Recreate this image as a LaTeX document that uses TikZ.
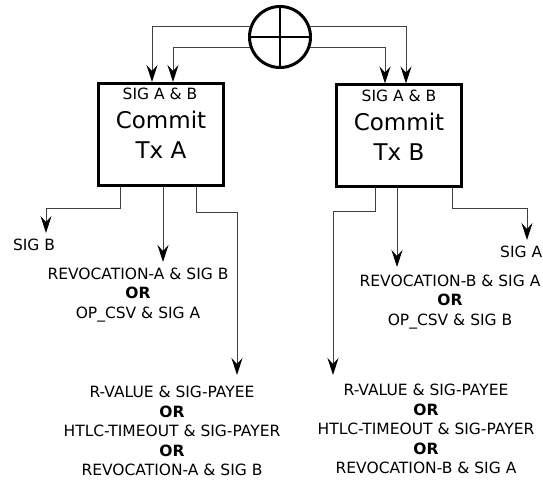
\documentclass[tikz,border=0pt]{standalone}
\usepackage{fontspec}
\setmainfont{DejaVu Sans}
\usetikzlibrary{arrows.meta}
\begin{document}
\begin{tikzpicture}[x=1pt,y=-1pt,
  conn/.style={draw=black!75,line width=1pt,-{Stealth[length=17pt,width=11pt,inset=6pt,black]}},
  txbox/.style={draw=black,line width=3pt,minimum width=125pt,minimum height=102pt,inner sep=0pt},
  lbl/.style={font=\fontsize{15.5}{19.6}\selectfont,align=center,inner sep=0pt},
  big/.style={font=\fontsize{23}{28}\selectfont,inner sep=0pt}]
\useasboundingbox (0,0) rectangle (543,481);
% XOR circle
\node[draw=black,line width=3pt,circle,minimum size=61pt,inner sep=0pt] (circ) at (280,37) {};
\draw[line width=1.2pt] (circ.north) -- (circ.south) (circ.west) -- (circ.east);
% boxes
\node[txbox] (boxA) at (161,134.5) {};
\node[txbox] (boxB) at (399,136) {};
\node[lbl] (sabA) at (160,94) {SIG A \& B};
\node[big] (comA) at (161,120) {Commit};
\node[big] (txA) at (161,150) {Tx A};
\node[lbl] (sabB) at (399,96) {SIG A \& B};
\node[big] (comB) at (399,122) {Commit};
\node[big] (txB) at (399,152) {Tx B};
% inputs from circle
\draw[conn] (circ.160) -| ([xshift=-9pt]boxA.north);
\draw[conn] (circ.200) -| ([xshift=12pt]boxA.north);
\draw[conn] (circ.-20) -| ([xshift=-14pt]boxB.north);
\draw[conn] (circ.20) -| ([xshift=7pt]boxB.north);
% tips
\coordinate (tA1) at (46,233);
\coordinate (tA2) at (163,262);
\coordinate (tA3) at (237,375);
\coordinate (tB1) at (333,375);
\coordinate (tB2) at (397,267);
\coordinate (tB3) at (527,240);
% outputs A
\draw[conn] ([xshift=-41pt]boxA.south) -- ++(0,21) -| (tA1);
\draw[conn] (boxA.south -| tA2) -- (tA2);
\draw[conn] ([xshift=35pt]boxA.south) -- ++(0,25) -| (tA3);
% outputs B
\draw[conn] ([xshift=-24pt]boxB.south) -- ++(0,23) -| (tB1);
\draw[conn] (boxB.south -| tB2) -- (tB2);
\draw[conn] ([xshift=53pt]boxB.south) -- ++(0,20) -| (tB3);
% labels
\node[lbl] (sigB) at (34,245) {SIG B};
\node[lbl,anchor=west] (sigA) at (500,252) {SIG A};
\node[lbl] (revA) at (138,295) {REVOCATION-A \& SIG B\\\textbf{OR}\\OP\_CSV \& SIG A};
\node[lbl] (revB) at (450,302) {REVOCATION-B \& SIG A\\\textbf{OR}\\OP\_CSV \& SIG B};
\node[lbl] (htlcA) at (172,431) {R-VALUE \& SIG-PAYEE\\\textbf{OR}\\HTLC-TIMEOUT \& SIG-PAYER\\\textbf{OR}\\REVOCATION-A \& SIG B};
\node[lbl] (htlcB) at (426,429) {R-VALUE \& SIG-PAYEE\\\textbf{OR}\\HTLC-TIMEOUT \& SIG-PAYER\\\textbf{OR}\\REVOCATION-B \& SIG A};
\end{tikzpicture}
\end{document}
